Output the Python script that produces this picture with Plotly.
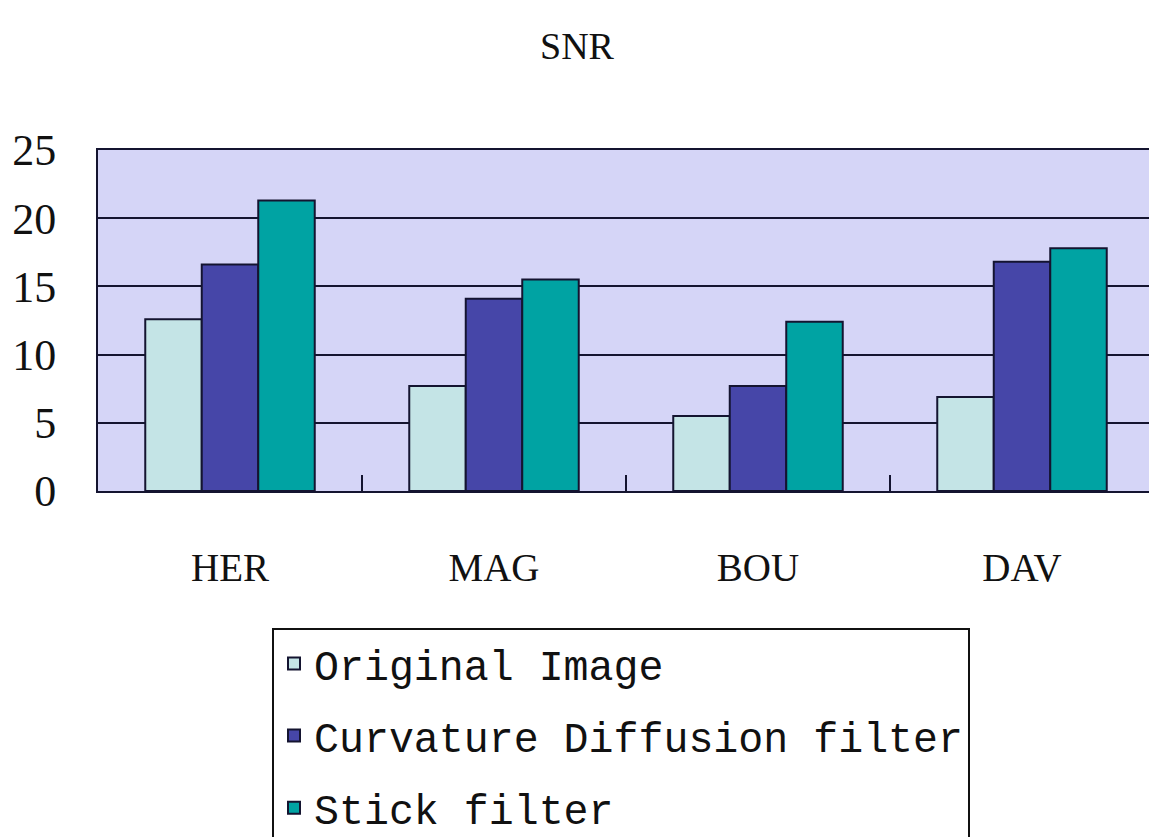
import plotly.graph_objects as go

categories = ["HER", "MAG", "BOU", "DAV"]
original_image = [12.6, 7.7, 5.5, 6.9]
curvature_diffusion = [16.6, 14.1, 7.7, 16.8]
stick_filter = [21.3, 15.5, 12.4, 17.8]
y_ticks = [0, 5, 10, 15, 20, 25]

series = [
    ("Original Image", original_image, "#C4E4E6"),
    ("Curvature Diffusion filter", curvature_diffusion, "#4646A8"),
    ("Stick filter", stick_filter, "#00A3A3"),
]

fig = go.Figure()
for i, (name, vals, col) in enumerate(series):
    fig.add_trace(go.Bar(
        x=categories, y=vals, name=name, legendgroup=f"g{i}",
        marker=dict(color=col, line=dict(color="#141430", width=2)),
    ))

W, H = 1149, 837
L, T = 98, 150
PB = 491
B = H - PB
PW = W - L
PH = PB - T
fig.update_layout(
    width=W, height=H,
    margin=dict(l=L, r=0, t=T, b=B, autoexpand=False),
    paper_bgcolor="white",
    plot_bgcolor="#D5D5F7",
    barmode="group", bargap=0.358, bargroupgap=0,
    title=dict(text="SNR", x=577 / W, xanchor="center", xref="container",
               y=1 - 46 / H, yref="container", yanchor="middle",
               font=dict(family="Liberation Serif", size=38, color="#111")),
    showlegend=True,
    legend=dict(
        x=(272 - L) / PW, xanchor="left",
        y=(PB - 628) / PH, yanchor="top",
        bordercolor="#111", borderwidth=2, bgcolor="white",
        font=dict(family="Liberation Mono", size=41.6, color="#111"),
        traceorder="grouped", tracegroupgap=15,
    ),
    font=dict(family="Liberation Serif", color="#111"),
)
fig.update_xaxes(
    range=[-0.5, -0.5 + PW / 264],
    showline=True, linecolor="#141430", linewidth=2, mirror=True,
    ticks="inside", tickson="boundaries", ticklen=16, tickwidth=2, tickcolor="#141430",
    ticklabelstandoff=41,
    tickfont=dict(family="Liberation Serif", size=39, color="#111"),
    showgrid=False, zeroline=False,
)
fig.update_yaxes(
    range=[0, 25], tickvals=y_ticks,
    showline=True, linecolor="#141430", linewidth=2,
    showgrid=True, gridcolor="#141430", gridwidth=2,
    zeroline=False, ticks="",
    ticklabelstandoff=31,
    tickfont=dict(family="Liberation Serif", size=44, color="#111"),
)
fig.write_html(
    "out.html",
    config={"displayModeBar": False},
    post_script="document.body.style.margin='0';document.body.style.overflow='hidden';",
)
